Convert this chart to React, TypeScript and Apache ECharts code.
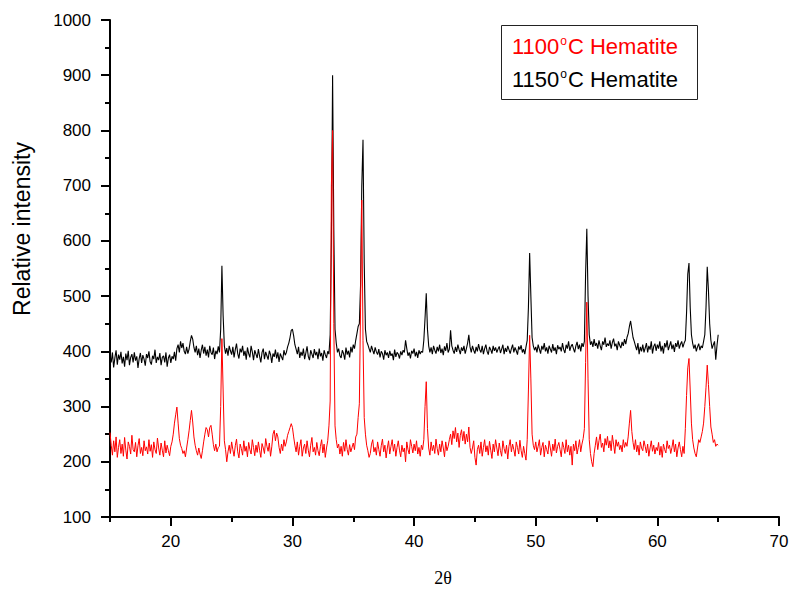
import React, { useEffect, useRef } from "react";
import * as echarts from "echarts";

// 2θ sampling of both scans
const X_START = 15.0;
const X_STEP = 0.1;

// 1150°C Hematite (black), 15.0 .. 65.0 step 0.1
const hematite1150 = [
  392, 380, 398, 371, 388, 402, 376, 394, 385, 399,
  378, 390, 372, 396, 384, 401, 375, 389, 395, 380,
  398, 383, 391, 370, 387, 397, 379, 393, 386, 374,
  395, 388, 400, 381, 376, 392, 386, 403, 379, 390,
  384, 397, 375, 389, 392, 380, 398, 372, 388, 394,
  379, 391, 386, 399, 383, 405, 412, 398, 418, 406,
  415, 400, 395, 408, 396, 404, 418, 429, 422, 407,
  398, 410, 393, 405, 388, 402, 412, 396, 408, 392,
  403, 389, 410, 398, 394, 407, 386, 401, 395, 409,
  398, 440, 555, 465, 410, 396, 406, 392, 410, 401,
  394, 408, 389, 403, 414, 396, 387, 405, 398, 410,
  392, 401, 385, 407, 396, 389, 410, 399, 384, 402,
  395, 388, 404, 391, 380, 398, 405, 386, 399, 392,
  385, 401, 394, 379, 396, 390, 403, 387, 398, 381,
  396, 390, 384, 402, 393, 398, 408, 415, 425, 438,
  440, 428, 412, 404, 395, 408, 388, 399, 392, 405,
  386, 397, 409, 391, 384, 402, 395, 388, 404, 393,
  399, 386, 405, 391, 397, 383, 402, 394, 388, 400,
  395, 430, 600, 900, 620, 440, 415, 398, 405, 392,
  388, 402, 396, 385, 407, 394, 401, 389, 408, 398,
  412, 405, 420, 432, 445, 450, 520, 700, 783, 560,
  440, 418, 412, 405, 398, 410, 402, 395, 407, 399,
  394, 404, 389, 400, 396, 385, 402, 393, 398, 388,
  401, 392, 396, 384, 403, 390, 398, 395, 387, 400,
  393, 402, 398, 420, 405, 392, 398, 387, 401, 396,
  405, 391, 399, 388, 402, 395, 400, 398, 420, 460,
  505, 440, 410, 398, 407, 395, 410, 402, 396, 408,
  400, 412, 397, 405, 393, 409, 401, 415, 398, 404,
  438, 410, 402, 396, 408, 399, 412, 403, 395, 407,
  401, 410, 396, 405, 415, 430, 408, 398, 410, 402,
  396, 408, 400, 413, 403, 398, 410, 395, 405, 412,
  400, 394, 408, 403, 396, 410, 401, 407, 398, 404,
  409, 397, 404, 412, 395, 406, 399, 410, 403, 396,
  405, 412, 398, 407, 401, 394, 409, 403, 411, 398,
  404, 395, 408, 420, 480, 578, 500, 425, 410, 402,
  408, 398, 412, 404, 396, 410, 403, 415, 400, 407,
  396, 410, 404, 398, 413, 401, 407, 395, 411, 404,
  408, 400, 415, 403, 397, 412, 405, 418, 401, 409,
  413, 405, 398, 410, 417, 404, 412, 400, 415, 408,
  418, 540, 622, 500, 430, 412, 418, 408, 422, 410,
  415, 405, 420, 410, 402, 418, 412, 425, 408, 414,
  410, 420, 405, 416, 423, 409, 414, 402, 418, 411,
  406, 417, 410, 422, 413, 425, 432, 445, 455, 440,
  425, 418, 410, 402, 415, 395, 408, 400, 412, 398,
  406, 415, 398, 410, 403, 418, 396, 409, 414, 401,
  412, 405, 418, 400, 410, 396, 415, 407, 420, 402,
  410, 418, 404, 412, 399, 415, 408, 420, 405, 413,
  418, 407, 415, 420, 470, 540, 560, 480, 430, 415,
  405, 412, 400, 408, 414, 402, 410, 406, 418, 430,
  480, 553, 510, 450, 420, 405, 412, 418, 385, 410,
  430,
];

// 1100°C Hematite (red), 15.0 .. 65.0 step 0.1
const hematite1100 = [
  253, 230, 212, 238, 218, 245, 208, 226, 240, 215,
  232, 210, 244, 221, 205, 236, 228, 214, 248, 222,
  218, 235, 209, 229, 242, 215, 226, 211, 238, 220,
  227, 214, 240, 219, 231, 208, 236, 222, 215, 243,
  225, 212, 234, 221, 209, 238, 216, 230, 220, 211,
  228, 236, 250, 270, 285, 299, 270, 242, 230, 224,
  215, 220, 209, 225, 240, 256, 275, 293, 272, 245,
  230, 220, 212, 225, 214, 206, 220, 236, 250, 262,
  258, 245, 262, 266, 250, 231, 220, 232, 218, 226,
  228, 300, 423, 330, 238, 222, 200, 218, 230, 215,
  236, 222, 210, 229, 241, 218, 207, 232, 224, 212,
  238, 219, 228, 209, 235, 222, 214, 240, 226, 211,
  230, 217, 236, 221, 208, 233, 225, 215, 242, 228,
  219, 234, 210, 227, 250, 257, 238, 252, 245, 226,
  215, 232, 220, 240, 228, 236, 248, 255, 262, 269,
  262, 245, 230, 218, 236, 212, 228, 240, 210, 225,
  232, 215, 238, 221, 209, 230, 244, 218, 226, 212,
  235, 220, 211, 228, 240, 216, 232, 208, 225, 238,
  265, 310, 700, 800, 450, 265, 240, 225, 232, 214,
  228, 210, 235, 219, 240, 222, 212, 231, 218, 226,
  234, 222, 245, 250, 280, 305, 480, 674, 420, 280,
  250, 230, 220, 208, 215, 232, 240, 218, 226, 212,
  236, 222, 210, 229, 241, 218, 230, 207, 225, 238,
  214, 228, 240, 219, 232, 210, 226, 238, 221, 209,
  230, 218, 225, 200, 236, 222, 214, 240, 228, 216,
  232, 220, 238, 214, 226, 210, 230, 222, 240, 300,
  345, 260, 225, 212, 236, 220, 230, 215, 241, 224,
  212, 232, 218, 238, 225, 209, 236, 220, 228, 240,
  250, 231, 256, 242, 262, 236, 252, 226, 248, 258,
  238, 255, 232, 250, 236, 263, 226, 215, 225, 238,
  208, 194, 222, 230, 215, 236, 210, 226, 240, 218,
  229, 212, 237, 221, 206, 232, 218, 240, 225, 211,
  234, 220, 210, 238, 224, 215, 230, 205, 228, 240,
  218, 232, 222, 210, 236, 226, 214, 239, 220, 208,
  228, 215, 203, 240, 330, 429, 350, 250, 230, 222,
  236, 218, 228, 240, 212, 226, 235, 209, 230, 222,
  214, 238, 225, 210, 232, 220, 241, 216, 228, 235,
  222, 209, 236, 226, 215, 240, 218, 230, 212, 228,
  194, 232, 220, 238, 214, 226, 240, 218, 232, 242,
  260, 380, 489, 350, 240, 215, 200, 191, 215, 230,
  245, 222, 238, 250, 226, 234, 218, 242, 230, 246,
  225, 238, 220, 248, 232, 215, 240, 228, 236, 222,
  230, 218, 240, 226, 235, 228, 245, 270, 293, 255,
  235, 222, 240, 218, 230, 212, 236, 225, 220, 238,
  228, 216, 232, 210, 225, 238, 219, 230, 214, 226,
  220, 235, 212, 228, 208, 232, 222, 216, 238, 224,
  230, 215, 226, 240, 218, 232, 209, 225, 236, 222,
  209, 228, 215, 260, 320, 370, 387, 330, 270, 240,
  225, 215, 209, 225, 240, 235, 245, 255, 270, 300,
  335, 375, 340, 300, 263, 250, 235, 240, 228, 232,
  230,
];

const xMajorTicks = [20, 30, 40, 50, 60, 70];
const xMinorTicks = [15, 25, 35, 45, 55, 65];
const seriesNames = ["1150°C Hematite", "1100°C Hematite"];

const SANS = 'Arial, "Liberation Sans", sans-serif';
const SERIF = '"Times New Roman", "Liberation Serif", serif';

function toPairs(values: number[]) {
  return values.map((v, i) => [Number((X_START + i * X_STEP).toFixed(2)), v]);
}

export default function App() {
  const ref = useRef<HTMLDivElement>(null);

  useEffect(() => {
    if (!ref.current) return;
    const chart = echarts.init(ref.current, undefined, { renderer: "svg" });
    const axisColor = "#000";
    chart.setOption({
      animation: false,
      backgroundColor: "#fff",
      grid: { left: 110, right: 13, top: 20, bottom: 73, containLabel: false },
      xAxis: [
        {
          type: "value",
          min: 15,
          max: 70,
          position: "bottom",
          axisLine: { show: true, onZero: false, lineStyle: { color: axisColor, width: 2 } },
          axisTick: { show: true, length: 9, customValues: xMajorTicks, lineStyle: { color: axisColor, width: 2 } },
          axisLabel: {
            customValues: xMajorTicks,
            margin: 16,
            fontSize: 17,
            fontFamily: SANS,
            color: "#000",
          },
          splitLine: { show: false },
        },
        {
          type: "value",
          min: 15,
          max: 70,
          position: "bottom",
          axisLine: { show: false, onZero: false },
          axisTick: { show: true, length: 5, customValues: xMinorTicks, lineStyle: { color: axisColor, width: 2 } },
          axisLabel: { show: false },
          splitLine: { show: false },
        },
      ],
      yAxis: {
        type: "value",
        min: 100,
        max: 1000,
        interval: 100,
        axisLine: { show: true, onZero: false, lineStyle: { color: axisColor, width: 2 } },
        axisTick: { show: true, length: 9, lineStyle: { color: axisColor, width: 2 } },
        minorTick: { show: true, splitNumber: 2, length: 5, lineStyle: { color: axisColor, width: 2 } },
        axisLabel: {
          margin: 19,
          fontSize: 17,
          fontFamily: SANS,
          color: "#000",
          formatter: (v: number) => String(v),
        },
        splitLine: { show: false },
      },
      series: [
        {
          name: seriesNames[0],
          type: "line",
          xAxisIndex: 0,
          data: toPairs(hematite1150),
          showSymbol: false,
          lineStyle: { color: "#000", width: 1.1 },
          itemStyle: { color: "#000" },
        },
        {
          name: seriesNames[1],
          type: "line",
          xAxisIndex: 0,
          data: toPairs(hematite1100),
          showSymbol: false,
          lineStyle: { color: "#ff0000", width: 1 },
          itemStyle: { color: "#ff0000" },
        },
      ],
      graphic: [
        {
          type: "text",
          x: 22,
          y: 229,
          rotation: Math.PI / 2,
          style: {
            text: "Relative intensity",
            fontSize: 23,
            fontFamily: SANS,
            fill: "#000",
            align: "center",
            verticalAlign: "middle",
          },
        },
        {
          type: "text",
          x: 443,
          y: 578,
          style: {
            text: "2θ",
            fontSize: 18,
            fontFamily: SERIF,
            fill: "#000",
            align: "center",
            verticalAlign: "middle",
          },
        },
        {
          type: "rect",
          shape: { x: 501.5, y: 25.5, width: 196, height: 74 },
          style: { fill: "#fff", stroke: "#222", lineWidth: 1 },
        },
        {
          type: "text",
          x: 512,
          y: 46,
          style: {
            text: "{a|1100}{s|o}{a|C Hematite}",
            align: "left",
            verticalAlign: "middle",
            rich: {
              a: { fontSize: 22, fontFamily: SANS, fill: "#ff0000" },
              s: { fontSize: 12, fontFamily: SANS, fill: "#ff0000", verticalAlign: "top", padding: [0, 1, 0, 1] },
            },
          },
        },
        {
          type: "text",
          x: 512,
          y: 79,
          style: {
            text: "{a|1150}{s|o}{a|C Hematite}",
            align: "left",
            verticalAlign: "middle",
            rich: {
              a: { fontSize: 22, fontFamily: SANS, fill: "#000" },
              s: { fontSize: 12, fontFamily: SANS, fill: "#000", verticalAlign: "top", padding: [0, 1, 0, 1] },
            },
          },
        },
      ],
    });
    return () => chart.dispose();
  }, []);

  return (
    <div
      ref={ref}
      style={{ position: "fixed", left: 0, top: 0, width: 792, height: 590, background: "#fff" }}
    />
  );
}
